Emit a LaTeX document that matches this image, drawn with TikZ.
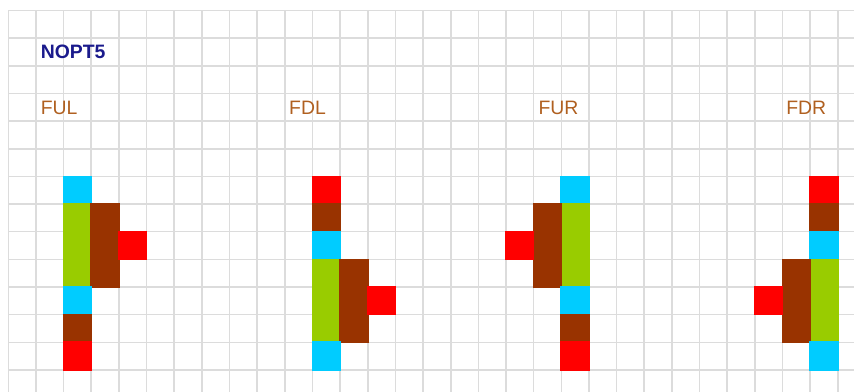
\documentclass[tikz,border=0pt]{standalone}
\usepackage{fontspec}
\setmainfont{Liberation Sans}
\definecolor{gridc}{RGB}{220,220,220}
\definecolor{cy}{RGB}{0,204,255}
\definecolor{gr}{RGB}{153,204,0}
\definecolor{br}{RGB}{153,51,0}
\definecolor{rd}{RGB}{255,0,0}
\definecolor{ttl}{RGB}{26,26,140}
\definecolor{lab}{RGB}{176,96,32}
\newcommand\blk[5]{\fill[#5] (#1-0.03,#2-0.03) rectangle (#3+0.03,#4+0.03);}
\begin{document}
\begin{tikzpicture}[x=27.65pt,y=-27.65pt,
  gridline/.style={gridc, line width=1.6pt},
  lbl/.style={anchor=base west, inner sep=0pt, font=\fontsize{19.4}{22}\selectfont, text=lab},
  ttlstyle/.style={lbl, font=\fontsize{19.4}{22}\selectfont\bfseries, text=ttl}]
\useasboundingbox (-0.3002,-0.3797) rectangle (30.586,13.797);
\clip (-0.3002,-0.3797) rectangle (30.586,13.797);
\fill[white] (-0.3002,-0.3797) rectangle (30.586,13.797);
% grid
\foreach \i in {0,...,30} \draw[gridline] (\i,0) -- (\i,14);
\foreach \j in {0,...,13} \draw[gridline] (0,\j) -- (31,\j);
% FUL
\blk{2}{6}{3}{7}{cy}
\blk{2}{7}{3}{10}{gr}
\blk{3}{7}{4}{10}{br}
\blk{4}{8}{5}{9}{rd}
\blk{2}{10}{3}{11}{cy}
\blk{2}{11}{3}{12}{br}
\blk{2}{12}{3}{13}{rd}
% FDL
\blk{11}{6}{12}{7}{rd}
\blk{11}{7}{12}{8}{br}
\blk{11}{8}{12}{9}{cy}
\blk{11}{9}{12}{12}{gr}
\blk{12}{9}{13}{12}{br}
\blk{13}{10}{14}{11}{rd}
\blk{11}{12}{12}{13}{cy}
% FUR
\blk{20}{6}{21}{7}{cy}
\blk{20}{7}{21}{10}{gr}
\blk{19}{7}{20}{10}{br}
\blk{18}{8}{19}{9}{rd}
\blk{20}{10}{21}{11}{cy}
\blk{20}{11}{21}{12}{br}
\blk{20}{12}{21}{13}{rd}
% FDR
\blk{29}{6}{30}{7}{rd}
\blk{29}{7}{30}{8}{br}
\blk{29}{8}{30}{9}{cy}
\blk{29}{9}{30}{12}{gr}
\blk{28}{9}{29}{12}{br}
\blk{27}{10}{28}{11}{rd}
\blk{29}{12}{30}{13}{cy}
% labels
\node[ttlstyle] (title) at (1.17,1.753) {NOPT5};
\node[lbl] (ful) at (1.17,3.753) {FUL};
\node[lbl] (fdl) at (10.15,3.753) {FDL};
\node[lbl] (fur) at (19.17,3.753) {FUR};
\node[lbl] (fdr) at (28.13,3.753) {FDR};
\end{tikzpicture}
\end{document}
